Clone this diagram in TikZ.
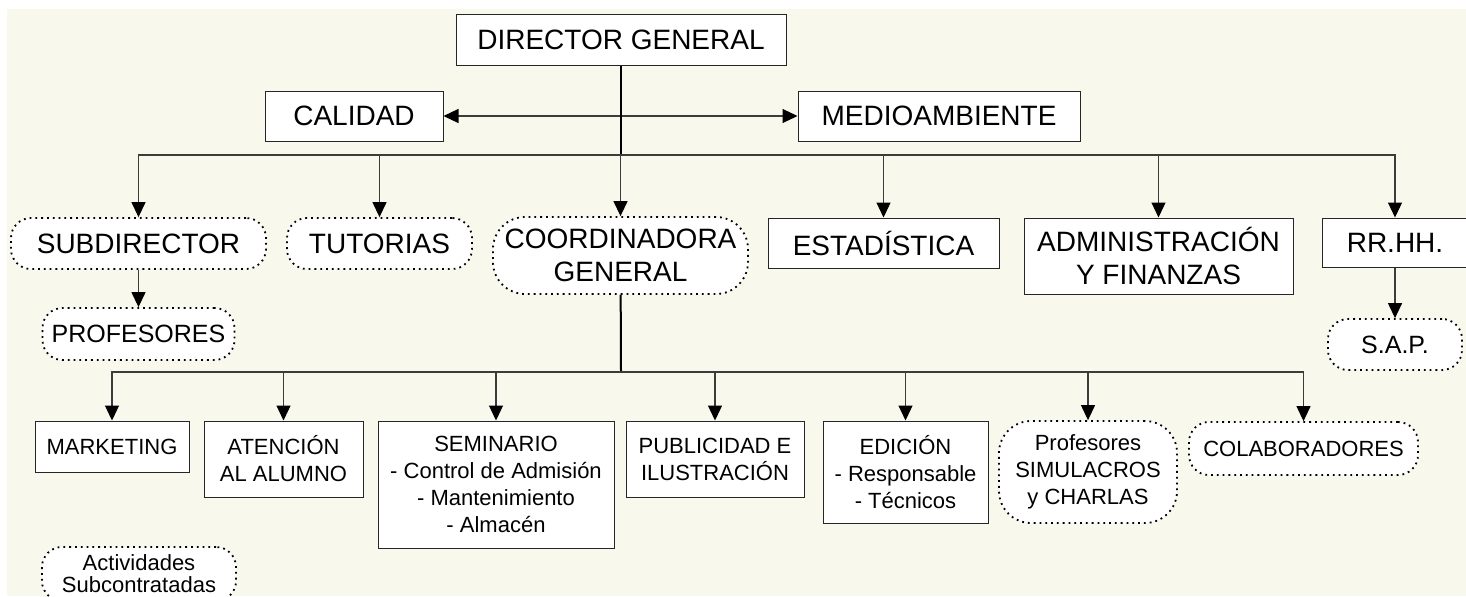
\documentclass[tikz,border=0pt]{standalone}
\usepackage{fontspec}
\setmainfont{Liberation Sans}
\usetikzlibrary{arrows.meta}
\definecolor{paper}{RGB}{248,248,236}
\definecolor{linegray}{RGB}{60,60,60}

\tikzset{
  box/.style={draw=black!85, fill=white, line width=0.5pt, inner sep=0pt, align=center},
  dotbox/.style={draw=black, line width=0.9pt, dotted, fill=white, rounded corners=10pt, inner sep=0pt, align=center},
  big/.style={font=\fontsize{14}{16.5}\selectfont},
  mid/.style={font=\fontsize{12.5}{15}\selectfont},
  small/.style={font=\fontsize{11}{13.5}\selectfont},
  link/.style={->, draw=linegray, line width=0.6pt},
  trunk/.style={draw=black, line width=1pt},
}

\begin{document}
\begin{tikzpicture}[x=0.5pt, y=-0.5pt, >={Triangle[width=7pt,length=7.5pt,color=black]}]
  \useasboundingbox (0,0) rectangle (1466,596);
  \clip (0,0) rectangle (1466,596);
  \fill[paper] (7,9) rectangle (1466,596);

  % Nodes
  \node[box, big, minimum width=165pt, minimum height=25.5pt] (dg) at (621,39.5) {DIRECTOR GENERAL};
  \node[box, big, minimum width=89pt, minimum height=25pt] (cal) at (354,116) {CALIDAD};
  \node[box, big, minimum width=141pt, minimum height=25pt] (med) at (939,116) {MEDIOAMBIENTE};

  \node[dotbox, big, minimum width=127.5pt, minimum height=25.5pt] (sub) at (138.5,243.5) {SUBDIRECTOR};
  \node[dotbox, big, minimum width=92.5pt, minimum height=25.5pt] (tut) at (379.5,243.5) {TUTORIAS};
  \node[dotbox, big, rounded corners=16pt, minimum width=127.5pt, minimum height=38.5pt] (coord) at (620.5,255.5) {COORDINADORA\\GENERAL};
  \node[box, big, minimum width=115.5pt, minimum height=25pt] (est) at (883.5,243) {ESTADÍSTICA};
  \node[box, big, minimum width=134.5pt, minimum height=38pt] (adm) at (1158.5,256) {ADMINISTRACIÓN\\Y FINANZAS};
  \node[box, big, minimum width=73pt, minimum height=24.5pt] (rrhh) at (1395,242.5) {RR.HH.};

  \node[dotbox, mid, minimum width=96pt, minimum height=26pt] (prof) at (138.5,334) {PROFESORES};
  \node[dotbox, mid, minimum width=67pt, minimum height=25.5pt] (sap) at (1395,344.5) {S.A.P.};

  \node[box, small, minimum width=77pt, minimum height=25.5pt] (mkt) at (112,446.5) {MARKETING};
  \node[box, small, minimum width=79.5pt, minimum height=38pt] (ate) at (283.5,459) {ATENCIÓN\\AL ALUMNO};
  \node[box, small, minimum width=118pt, minimum height=63.5pt] (sem) at (496,484.5) {SEMINARIO\\- Control de Admisión\\- Mantenimiento\\- Almacén};
  \node[box, small, minimum width=89pt, minimum height=38pt] (pub) at (715,459) {PUBLICIDAD E\\ILUSTRACIÓN};
  \node[box, small, minimum width=82.5pt, minimum height=51pt] (edi) at (905.5,472) {EDICIÓN\\- Responsable\\- Técnicos};
  \node[dotbox, small, rounded corners=16pt, minimum width=89pt, minimum height=51pt] (sim) at (1088,472) {Profesores\\SIMULACROS\\y CHARLAS};
  \node[dotbox, small, minimum width=114.5pt, minimum height=26.5pt] (col) at (1303.5,448.5) {COLABORADORES};
  \node[dotbox, font=\fontsize{11}{11}\selectfont, minimum width=97pt, minimum height=27pt] (act) at (139,574) {Actividades\\Subcontratadas};

  \coordinate (bus1) at (621,155);
  \coordinate (bus2) at (621,372);

  % Director general and staff
  \draw[<->, draw=linegray, line width=0.6pt] (cal) -- (med);
  \draw[trunk] (dg) -- (bus1);

  % First level
  \foreach \n in {sub,tut,coord,est,adm,rrhh}
  {
    \draw[link] (bus1) -| (\n.north);
  }
  \draw[link] (sub) -- (prof);
  \draw[link] (rrhh) -- (sap);

  % Under the coordinator
  \draw[trunk] (coord) -- (bus2);
  \foreach \n in {mkt,ate,sem,pub,edi,sim,col}
  {
    \draw[link] (bus2) -| (\n.north);
  }
\end{tikzpicture}
\end{document}
